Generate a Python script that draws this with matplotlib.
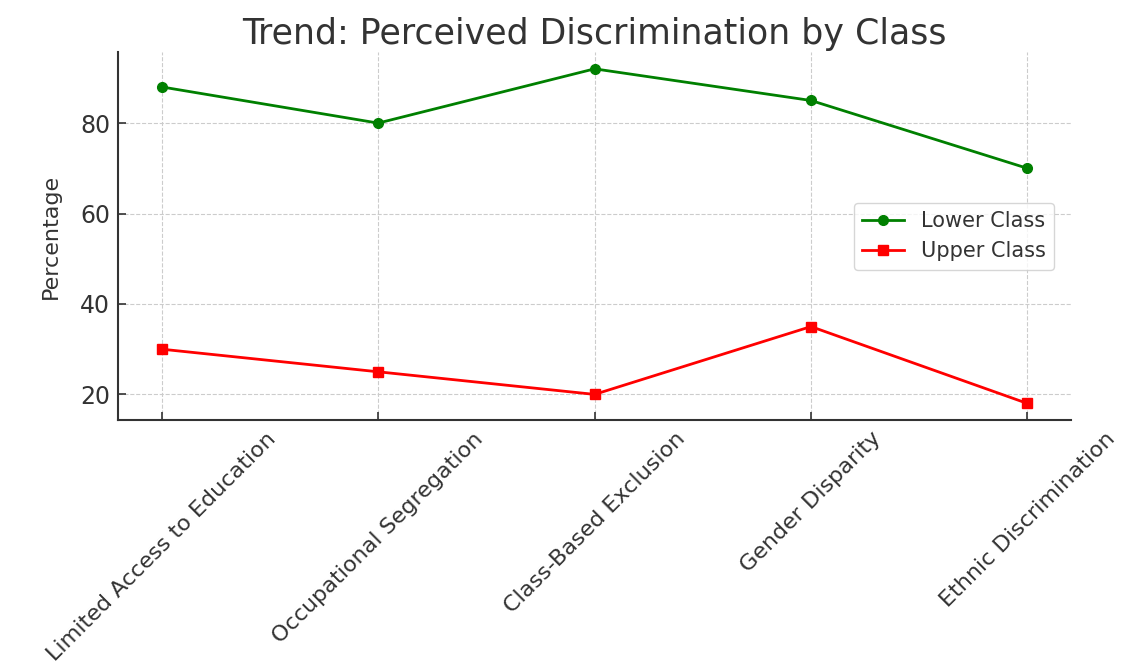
import matplotlib
matplotlib.use("Agg")
import matplotlib.pyplot as plt

categories = [
    "Limited Access to Education",
    "Occupational Segregation",
    "Class-Based Exclusion",
    "Gender Disparity",
    "Ethnic Discrimination",
]
lower_class = [88, 80, 92, 85, 70]
upper_class = [30, 25, 20, 35, 18]

text_color = "#333333"
plt.rcParams["text.color"] = text_color
plt.rcParams["axes.labelcolor"] = text_color
plt.rcParams["xtick.color"] = text_color
plt.rcParams["ytick.color"] = text_color

fig, ax = plt.subplots(figsize=(11.39, 6.68), dpi=100)

ax.plot(categories, lower_class, color="green", marker="o", markersize=7,
        linewidth=2, label="Lower Class")
ax.plot(categories, upper_class, color="red", marker="s", markersize=7,
        linewidth=2, label="Upper Class")

ax.set_title("Trend: Perceived Discrimination by Class", fontsize=25, pad=6)
ax.set_ylabel("Percentage", fontsize=16, labelpad=14)
ax.set_yticks([20, 40, 60, 80])
ax.tick_params(axis="both", direction="in", length=6, width=1.2, pad=6)
ax.tick_params(axis="y", labelsize=17)
ax.tick_params(axis="x", labelsize=16)
plt.setp(ax.get_xticklabels(), rotation=45)

ax.grid(True, linestyle="--", color="#cccccc", linewidth=0.8)
for side in ["top", "right"]:
    ax.spines[side].set_visible(False)
for side in ["left", "bottom"]:
    ax.spines[side].set_linewidth(1.5)
    ax.spines[side].set_color(text_color)

ax.legend(loc="center right", fontsize=15, frameon=True, borderaxespad=0.8)

fig.subplots_adjust(left=0.104, right=0.94, top=0.922, bottom=0.371)
fig.savefig("out.png", dpi=100)
